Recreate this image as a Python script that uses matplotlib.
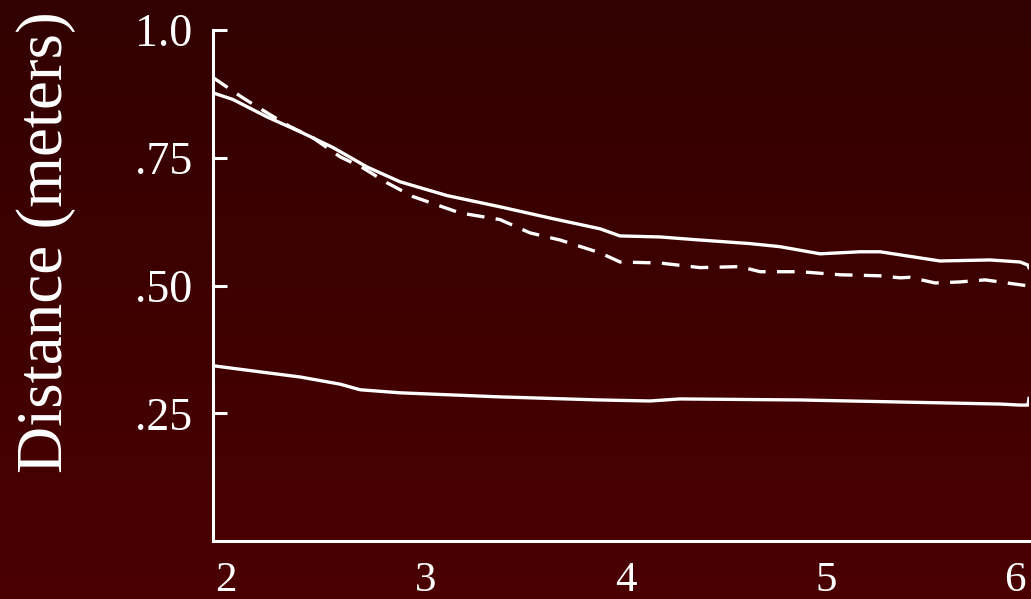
import numpy as np
import matplotlib
matplotlib.use("Agg")
import matplotlib.pyplot as plt
from matplotlib.colors import LinearSegmentedColormap

# ---- data ----
upper_x = [1.935, 2.035, 2.205, 2.37, 2.535, 2.705, 2.87, 3.105, 3.37, 3.62, 3.87,
           3.97, 4.17, 4.37, 4.62, 4.77, 4.97, 5.17, 5.27, 5.57, 5.82, 5.97, 6.01, 6.015]
upper_y = [0.877, 0.864, 0.830, 0.801, 0.770, 0.732, 0.703, 0.676, 0.654, 0.632, 0.611,
           0.597, 0.595, 0.589, 0.582, 0.576, 0.562, 0.566, 0.566, 0.548, 0.550, 0.546, 0.540, 0.535]

dash_x = [1.935, 2.085, 2.205, 2.32, 2.435, 2.57, 2.685, 2.805, 2.935, 3.17, 3.37,
          3.52, 3.67, 3.87, 3.97, 4.17, 4.37, 4.57, 4.67, 4.87, 5.07, 5.27, 5.37,
          5.42, 5.545, 5.67, 5.795, 6.015]
dash_y = [0.907, 0.867, 0.838, 0.811, 0.789, 0.752, 0.730, 0.701, 0.674, 0.642, 0.629,
          0.603, 0.589, 0.564, 0.546, 0.544, 0.535, 0.537, 0.527, 0.527, 0.521, 0.519,
          0.515, 0.516, 0.505, 0.507, 0.511, 0.499]

lower_x = [1.935, 2.17, 2.37, 2.57, 2.67, 2.87, 3.37, 3.87, 4.12, 4.27, 4.87,
           5.37, 5.87, 5.97, 6.01, 6.015]
lower_y = [0.343, 0.331, 0.321, 0.307, 0.296, 0.290, 0.282, 0.276, 0.274, 0.278, 0.276,
           0.272, 0.268, 0.266, 0.266, 0.279]

x_ticks = [2, 3, 4, 5, 6]
x_ticklabels = ["2", "3", "4", "5", "6"]
y_ticks = [0.25, 0.5, 0.75, 1.0]
y_ticklabels = [".25", ".50", ".75", "1.0"]
y_label = "Distance (meters)"

plt.rcParams['font.family'] = ['Liberation Serif', 'DejaVu Serif']

W, H = 1031, 599
fig = plt.figure(figsize=(W / 100, H / 100), dpi=100)

# background gradient
bg = fig.add_axes([0, 0, 1, 1], zorder=-10)
cmap = LinearSegmentedColormap.from_list("bg", ["#320000", "#4b0000"])
grad = np.linspace(0, 1, 256).reshape(-1, 1)
bg.imshow(grad, aspect="auto", cmap=cmap, extent=[0, 1, 0, 1], origin="upper")
bg.set_axis_off()

ax = fig.add_axes([213 / W, 1 - 541 / H, (1029 - 213) / W, (541 - 30) / H])
ax.set_facecolor("none")

lw = 2.4
ax.plot(upper_x, upper_y, color="white", lw=lw, solid_joinstyle="round")
ax.plot(dash_x, dash_y, color="white", lw=lw, linestyle=(0, (5.3, 3.4)))
ax.plot(lower_x, lower_y, color="white", lw=lw, solid_joinstyle="round")

ax.set_xlim(1.935, 6.015)
ax.set_ylim(0, 1.0)

for s in ["top", "right"]:
    ax.spines[s].set_visible(False)
for s in ["left", "bottom"]:
    ax.spines[s].set_color("white")
    ax.spines[s].set_linewidth(2.2)

ax.set_xticks(x_ticks)
ax.set_xticklabels(x_ticklabels)
ax.set_yticks(y_ticks)
ax.set_yticklabels(y_ticklabels)
ax.tick_params(axis="x", length=0, pad=15, labelsize=31, colors="white")
ax.tick_params(axis="y", direction="in", length=10, width=2.2, pad=15,
               labelsize=33, colors="white")
ax.get_xticklabels()[-1].set_horizontalalignment("right")

ax.set_ylabel(y_label, fontsize=47, color="white")
ax.yaxis.set_label_coords(-(213 - 76) / (1029 - 213), (541 - 242) / 511)

fig.savefig("out.png", dpi=100)
